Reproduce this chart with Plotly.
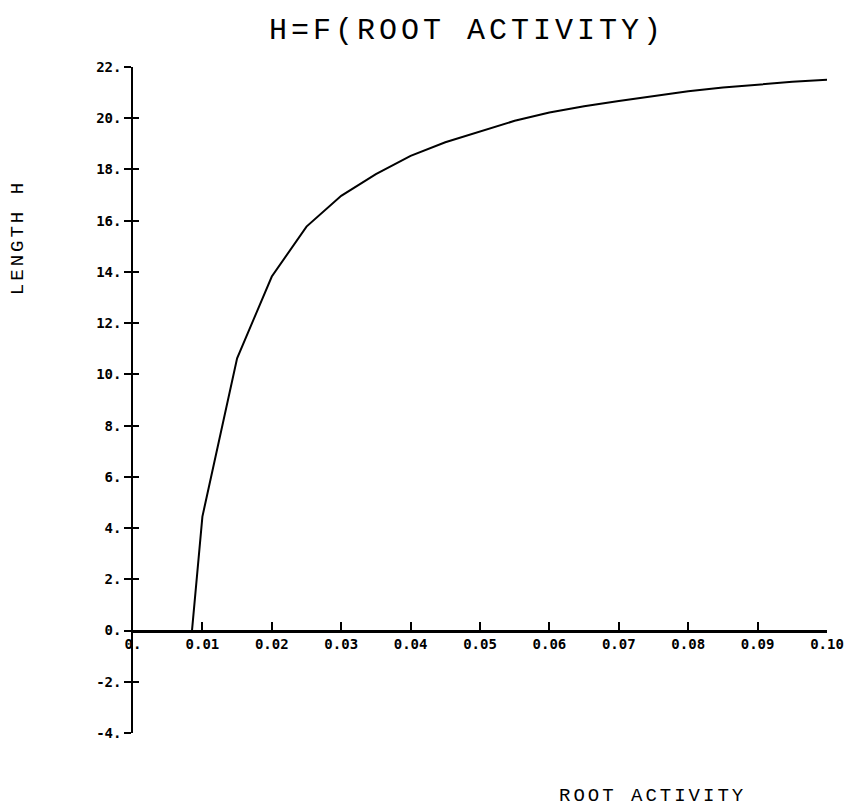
import plotly.graph_objects as go

# Data
root_activity = [0.0085, 0.010, 0.015, 0.020, 0.025, 0.030, 0.035, 0.040, 0.045, 0.050,
                 0.055, 0.060, 0.065, 0.070, 0.075, 0.080, 0.085, 0.090, 0.095, 0.100]
length_h = [0.0, 4.45, 10.63, 13.82, 15.77, 16.97, 17.82, 18.53, 19.06, 19.48,
            19.9, 20.22, 20.47, 20.67, 20.87, 21.05, 21.2, 21.31, 21.42, 21.5]

x_tickvals = [0.0, 0.01, 0.02, 0.03, 0.04, 0.05, 0.06, 0.07, 0.08, 0.09, 0.10]
x_ticktext = ["0.", "0.01", "0.02", "0.03", "0.04", "0.05", "0.06", "0.07", "0.08", "0.09", "0.10"]
y_tickvals = [-4, -2, 0, 2, 4, 6, 8, 10, 12, 14, 16, 18, 20, 22]
y_ticktext = ["-4.", "-2.", "0.", "2.", "4.", "6.", "8.", "10.", "12.", "14.", "16.", "18.", "20.", "22."]

title_text = "H=F(ROOT ACTIVITY)"
x_title = "ROOT ACTIVITY"
y_title = "LENGTH H"

X_RANGE = [0.0, 0.1]
Y_RANGE = [-4, 22]


def spaced(text, px):
    return f'<span style="letter-spacing:{px}px">{text}</span>'


fig = go.Figure()
fig.add_trace(go.Scatter(x=root_activity, y=length_h, mode="lines",
                         line=dict(color="black", width=2), showlegend=False,
                         hoverinfo="x+y"))
# helper trace so the overlaid y axis (inner half of the crossing ticks) is drawn
fig.add_trace(go.Scatter(x=[None], y=[None], yaxis="y2", showlegend=False,
                         hoverinfo="skip"))

tick_font = dict(family="DejaVu Sans Mono", size=14, color="black", weight="bold")

fig.update_layout(
    width=848, height=806,
    paper_bgcolor="white", plot_bgcolor="white",
    margin=dict(l=133, r=21, t=67, b=73, autoexpand=False),
    xaxis=dict(
        range=X_RANGE, tickvals=x_tickvals, ticktext=x_ticktext,
        showgrid=False, zeroline=False, automargin=False,
        showline=True, linecolor="black", linewidth=2.5,
        ticks="inside", ticklen=8, tickwidth=1.5, tickcolor="black",
        tickfont=tick_font,
        anchor="free", position=(0 - Y_RANGE[0]) / (Y_RANGE[1] - Y_RANGE[0]),
    ),
    yaxis=dict(
        range=Y_RANGE, tickvals=y_tickvals, ticktext=y_ticktext,
        showgrid=False, zeroline=False, automargin=False,
        showline=True, linecolor="black", linewidth=1.5,
        ticks="outside", ticklen=7, tickwidth=2, tickcolor="black",
        tickfont=tick_font,
    ),
    yaxis2=dict(
        range=Y_RANGE, tickvals=y_tickvals, overlaying="y", anchor="x", side="left",
        showgrid=False, zeroline=False, showline=False, showticklabels=False,
        automargin=False,
        ticks="inside", ticklen=6, tickwidth=2, tickcolor="black",
    ),
    annotations=[
        dict(text=spaced(title_text, 4), xref="paper", yref="paper", x=0.481, y=1.054,
             xanchor="center", yanchor="middle", showarrow=False,
             font=dict(family="Liberation Mono", size=30, color="black")),
        dict(text=spaced(x_title, 3), xref="paper", yref="paper", x=0.748, y=-0.094,
             xanchor="center", yanchor="middle", showarrow=False,
             font=dict(family="Liberation Mono", size=19, color="black")),
        dict(text=spaced(y_title, 3), xref="paper", yref="paper", x=-0.1657, y=0.743,
             xanchor="center", yanchor="middle", showarrow=False, textangle=-90,
             font=dict(family="Liberation Mono", size=19, color="black")),
    ],
)

fig.write_html("out.html", config={"displayModeBar": False},
               post_script="document.body.style.margin='0px';document.body.style.overflow='hidden';")
